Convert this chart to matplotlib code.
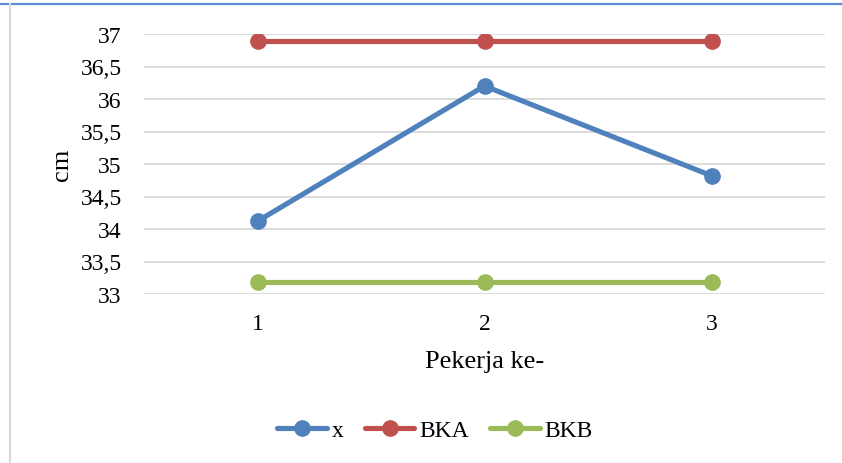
import matplotlib.pyplot as plt
from matplotlib.lines import Line2D

# data
pekerja = [1, 2, 3]
x_vals = [34.12, 36.2, 34.82]
bka = [36.89, 36.89, 36.89]
bkb = [33.18, 33.18, 33.18]
yticks = [33, 33.5, 34, 34.5, 35, 35.5, 36, 36.5, 37]

plt.rcParams['font.family'] = ['Liberation Serif', 'DejaVu Serif']

W, H = 842, 464
fig = plt.figure(figsize=(W / 100, H / 100), dpi=100)
ax = fig.add_axes([144 / W, (H - 295) / H, (825 - 144) / W, (295 - 35) / H])

blue = '#4F81BD'
red = '#C0504D'
green = '#9BBB59'

lw = 3.7
ms = 11
ax.plot(pekerja, x_vals, color=blue, lw=lw, marker='o', ms=ms, label='x', solid_capstyle='round')
ax.plot(pekerja, bka, color=red, lw=lw, marker='o', ms=ms, label='BKA', solid_capstyle='round')
ax.plot(pekerja, bkb, color=green, lw=lw, marker='o', ms=ms, label='BKB', solid_capstyle='round')

ax.set_xlim(0.5, 3.5)
ax.set_ylim(33, 37)
ax.set_xticks(pekerja)
ax.set_xticklabels([str(p) for p in pekerja])
ax.set_yticks(yticks)
ax.set_yticklabels([('%g' % v).replace('.', ',') for v in yticks])
ax.grid(axis='y', color='#D9D9D9', lw=1.3)
ax.set_axisbelow(True)
for s in ax.spines.values():
    s.set_visible(False)
ax.tick_params(length=0, labelsize=17)
ax.tick_params(axis='y', pad=16)
ax.tick_params(axis='x', pad=14)

ax.set_xlabel('Pekerja ke-', fontsize=19)
ax.xaxis.set_label_coords(0.5, -(362 - 295) / (295 - 35), transform=ax.transAxes)
ax.set_ylabel('cm', fontsize=19)
ax.yaxis.set_label_coords(-(144 - 62) / (825 - 144), 0.5)
ax.xaxis.label.set_va('center')
ax.yaxis.label.set_va('center')

leg = fig.legend(loc='center', bbox_to_anchor=(435 / W, 1 - 431 / H), ncol=3, frameon=False,
                 fontsize=17, handlelength=2.1, handletextpad=0.2, columnspacing=0.9)

# chart frame: blue top edge and grey left edge
fig.add_artist(Line2D([0, 1], [1 - 4.5 / H, 1 - 4.5 / H], color='#5B8BD0', lw=1.6))
fig.add_artist(Line2D([9.5 / W, 9.5 / W], [0, 1 - 5 / H], color='#D9D9D9', lw=1.6))

fig.savefig('out.png', dpi=100)
